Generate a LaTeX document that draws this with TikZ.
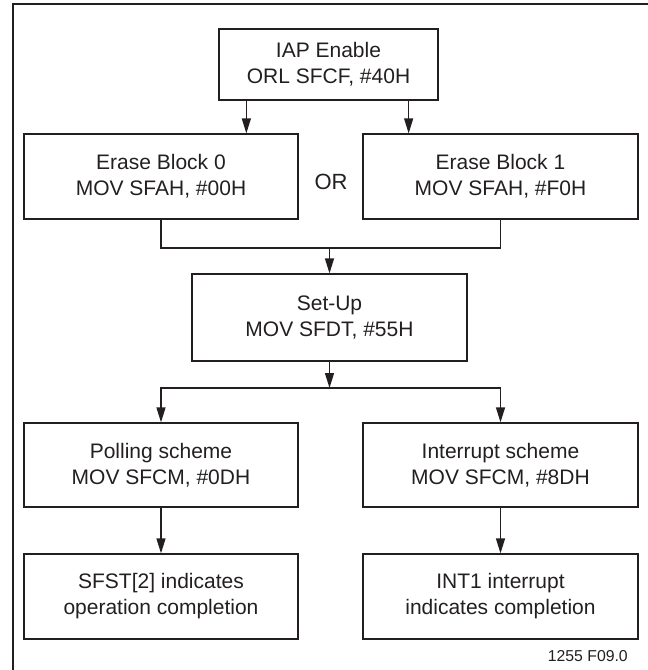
\documentclass[tikz,border=0pt]{standalone}
\usepackage{fontspec}
\setmainfont{Liberation Sans}
\usetikzlibrary{arrows.meta}
\definecolor{ink}{RGB}{35,31,32}
\begin{document}
\begin{tikzpicture}[x=1pt,y=-1pt,
  box/.style={draw=ink,line width=1.3pt,rectangle,align=center,inner sep=0pt,
    text=ink,font=\fontsize{21}{26}\selectfont},
  conn/.style={draw=ink,line width=1.3pt},
  arr/.style={conn,-{Triangle[length=15pt,width=9pt]}},
  ]
\useasboundingbox (0,0) rectangle (648,670);
% frame (right and bottom sides lie outside the picture)
\draw[ink,line width=2.2pt] (12.7,676) -- (12.7,4) -- (654,4);

\node[box,minimum width=219pt,minimum height=71pt] (iap) at (328.5,64.5) {IAP Enable\\ORL SFCF, \#40H};
\node[box,minimum width=274pt,minimum height=85pt] (e0) at (161,176.5) {Erase Block 0\\MOV SFAH, \#00H};
\node[box,minimum width=275pt,minimum height=85pt] (e1) at (500.5,176.5) {Erase Block 1\\MOV SFAH, \#F0H};
\node[text=ink,font=\fontsize{22}{26}\selectfont] (or) at (331,182) {OR};
\node[box,minimum width=275pt,minimum height=87pt] (setup) at (329.5,317.5) {Set-Up\\MOV SFDT, \#55H};
\node[box,minimum width=274pt,minimum height=84pt] (poll) at (161,465) {Polling scheme\\MOV SFCM, \#0DH};
\node[box,minimum width=275pt,minimum height=84pt] (intr) at (500.5,465) {Interrupt scheme\\MOV SFCM, \#8DH};
\node[box,minimum width=274pt,minimum height=85pt] (sfst) at (161,596.5) {SFST[2] indicates\\operation completion};
\node[box,minimum width=275pt,minimum height=85pt] (int1) at (500.5,596.5) {INT1 interrupt\\indicates completion};
\node[text=ink,font=\fontsize{15.8}{18}\selectfont,anchor=east,inner sep=0pt] (lbl) at (628,656) {1255 F09.0};

\coordinate (m) at (329.5,248);
\coordinate (s) at (329.5,388);

\draw[arr] ([xshift=28pt]iap.south west) -- ([xshift=28pt]iap.south west |- e0.north);
\draw[arr] ([xshift=-30pt]iap.south east) -- ([xshift=-30pt]iap.south east |- e1.north);
\draw[conn] (e0.south) -- (e0.south |- m) -- (e1.south |- m) -- (e1.south);
\draw[arr] (m) -- (setup.north);
\draw[arr] (setup.south) -- (s);
\draw[arr] (s) -| (poll.north);
\draw[arr] (s) -| (intr.north);
\draw[arr] (poll.south) -- (sfst.north);
\draw[arr] (intr.south) -- (int1.north);
\end{tikzpicture}
\end{document}
